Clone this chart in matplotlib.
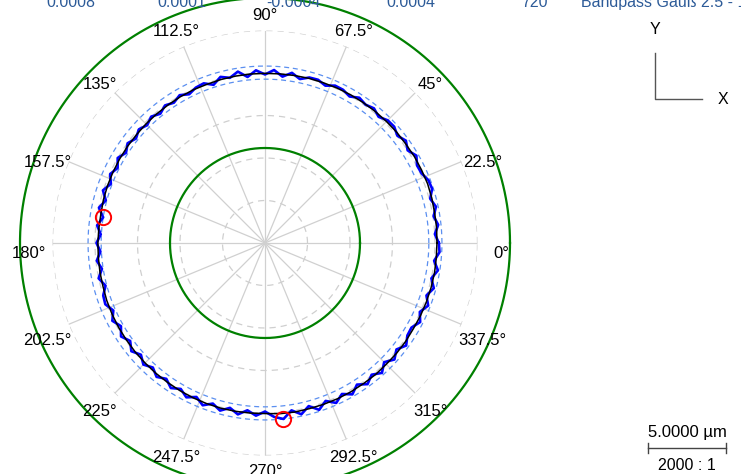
import numpy as np
import matplotlib.pyplot as plt

plt.rcParams['font.family'] = ['Liberation Sans', 'DejaVu Sans']

# header values
header_vals = ['0.0008', '0.0001', '-0.0004', '0.0004', '720']
header_x = [71, 182, 293, 411, 534]          # pixel centres
filter_name = 'Bandpass Gauß 2.5 - 150'

# profile deviation (µm), raw profile every 3 deg
raw_deg = np.arange(0, 360, 3)
raw_dev = [
    0.22, -0.02, 0.24, 0.02, 0.28, 0.04, 0.34, 0.30, 0.06, 0.02,
    0.28, -0.02, 0.24, 0.00, 0.22, 0.20, -0.04, 0.18, 0.04, 0.18,
    -0.08, 0.10, 0.12, -0.12, 0.08, 0.06, -0.18, 0.12, -0.20, 0.18,
    -0.12, 0.16, -0.22, 0.20, -0.10, 0.10, -0.26, 0.04, -0.02, -0.22,
    0.02, -0.20, -0.02, -0.26, -0.02, -0.24, -0.04, -0.28, -0.04, -0.30,
    -0.02, -0.32, -0.06, -0.34, 0.00, -0.36, -0.04, -0.42, -0.10, -0.38,
    -0.12, -0.36, -0.08, -0.34, -0.02, -0.34, -0.02, 0.04, -0.28, 0.06,
    -0.26, 0.08, -0.24, 0.10, -0.22, 0.10, -0.18, 0.12, -0.16, 0.16,
    -0.12, 0.18, -0.12, 0.22, -0.10, 0.20, -0.12, 0.20, -0.14, 0.16,
    -0.12, 0.24, 0.42, -0.06, 0.30, -0.10, 0.32, -0.08, 0.30, -0.06,
    0.28, -0.10, 0.26, -0.06, 0.28, -0.12, 0.24, -0.08, 0.26, -0.04,
    -0.08, 0.24, -0.06, 0.28, -0.04, 0.28, -0.02, 0.30, -0.02, 0.28,
]

# filtered profile every 5 deg
filt_deg = np.arange(0, 360, 5)
filt_dev = [
    0.10, 0.12, 0.12, 0.15, 0.17, 0.15, 0.14, 0.11, 0.11, 0.09,
    0.08, 0.06, 0.05, 0.03, 0.01, 0.00, -0.02, -0.04, -0.05, -0.05,
    -0.06, -0.07, -0.09, -0.08, -0.09, -0.11, -0.12, -0.13, -0.15, -0.15,
    -0.16, -0.17, -0.18, -0.20, -0.24, -0.23, -0.21, -0.20, -0.18, -0.17,
    -0.13, -0.11, -0.09, -0.08, -0.06, -0.05, -0.03, -0.02, 0.00, 0.02,
    0.03, 0.04, 0.03, 0.02, 0.01, 0.06, 0.08, 0.07, 0.08, 0.09,
    0.09, 0.08, 0.09, 0.07, 0.08, 0.08, 0.06, 0.08, 0.09, 0.10,
    0.11, 0.10,
]

angle_labels = ['0°', '22.5°', '45°', '67.5°', '90°', '112.5°', '135°', '157.5°',
                '180°', '202.5°', '225°', '247.5°', '270°', '292.5°', '315°', '337.5°']

R0 = 170.4          # plot radius of the mean profile
SCALE = 15.6        # plot units per µm (2000:1)
R_MAX = 212.5
ring_r = [42.5, 85.0, 127.5, 170.0, 212.5]
green_r = [95.0, 245.0]

W, H = 741, 474
fig = plt.figure(figsize=(W / 100, H / 100), dpi=100)
ax = fig.add_axes([(265 - 212.5) / W, (H - 243 - 212.5) / H, 425 / W, 425 / H],
                  projection='polar')
ax.set_ylim(0, R_MAX)
ax.grid(False)
ax.set_xticks([])
ax.set_yticks([])
ax.spines['polar'].set_visible(False)

full = np.linspace(0, 2 * np.pi, 721)

# spokes and dashed rings
for k in range(16):
    t = np.deg2rad(k * 22.5)
    ax.plot([t, t], [0, R_MAX], color='#d0d0d0', lw=0.9, zorder=1)
for r in ring_r:
    ax.plot(full, np.full_like(full, r), color='#cfcfcf', lw=0.9,
            ls=(0, (5, 4)), zorder=1)

# green reference circles
for r in green_r:
    ax.plot(full, np.full_like(full, r), color='#008000', lw=1.6, zorder=2,
            clip_on=False)

raw_th = np.deg2rad(np.append(raw_deg, 360))
raw_r = R0 + SCALE * np.append(raw_dev, raw_dev[0])
filt_th = np.deg2rad(np.append(filt_deg, 360))
filt_r = R0 + SCALE * np.append(filt_dev, filt_dev[0])

# min / max zone band
lo, hi = min(raw_dev), max(raw_dev)
for d in (lo, hi):
    ax.plot(full, np.full_like(full, R0 + SCALE * d), color='#5b8ff0', lw=0.9,
            ls=(0, (4, 3)), zorder=3)

ax.plot(filt_th, filt_r, color='black', lw=1.1, zorder=5)
ax.plot(raw_th, raw_r, color='#0000ff', lw=1.9, zorder=4)

i_lo, i_hi = int(np.argmin(raw_dev)), int(np.argmax(raw_dev))
for i in (i_lo, i_hi):
    ax.plot(np.deg2rad(raw_deg[i]), R0 + SCALE * raw_dev[i], 'o', ms=11,
            mfc='none', mec='red', mew=1.4, zorder=6)

# angle labels
for k, lab in enumerate(angle_labels):
    t = np.deg2rad(k * 22.5)
    c, s = np.cos(t), np.sin(t)
    r = 228 + 8 * abs(c)
    drop = c * c * (10 + 4 * s)
    ax.annotate(lab, xy=(t, r), xytext=(0, -drop), textcoords='offset pixels',
                ha='center', va='center', fontsize=12, annotation_clip=False)

# header line (partly cut at the top edge)
for v, x in zip(header_vals, header_x):
    fig.text(x / W, 1 - 7 / H, v, ha='center', va='baseline', fontsize=11.5,
             color='#2d5b98')
fig.text(581 / W, 1 - 7 / H, filter_name, ha='left', va='baseline',
         fontsize=11.5, color='#2d5b98')

# axis orientation symbol
fig.add_artist(plt.Line2D([655 / W, 655 / W, 702 / W],
                          [1 - 53 / H, 1 - 99 / H, 1 - 99 / H],
                          color='#555555', lw=1))
fig.text(655 / W, 1 - 30 / H, 'Y', ha='center', va='center', fontsize=11.5)
fig.text(723 / W, 1 - 100 / H, 'X', ha='center', va='center', fontsize=11.5)

# scale bar
bar = 5 * SCALE
x0, x1, yb = 648, 648 + bar, 448
fig.add_artist(plt.Line2D([x0 / W, x1 / W], [1 - yb / H, 1 - yb / H],
                          color='#444444', lw=1))
for x in (x0, x1):
    fig.add_artist(plt.Line2D([x / W, x / W], [1 - (yb - 5) / H, 1 - (yb + 5) / H],
                              color='#444444', lw=1))
fig.text((x0 + x1) / 2 / W, 1 - 432 / H, '5.0000 µm', ha='center', va='center',
         fontsize=12)
fig.text((x0 + x1) / 2 / W, 1 - 465 / H, '2000 : 1', ha='center', va='center',
         fontsize=11.5)

fig.savefig('out.png', dpi=100)
